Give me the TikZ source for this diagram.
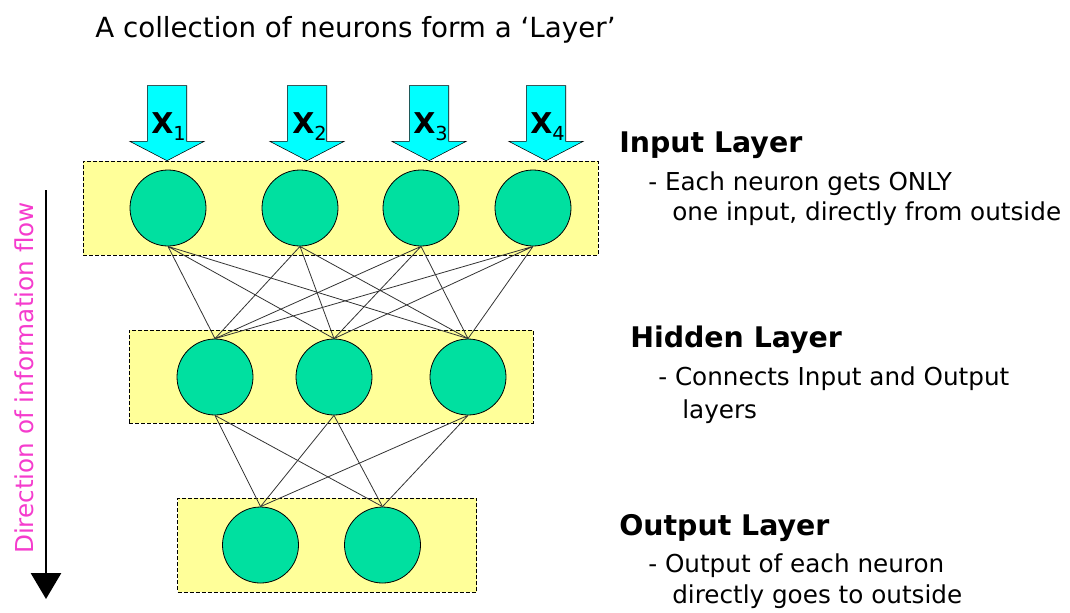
\documentclass[tikz,border=0pt]{standalone}
\usepackage{fontspec}
\setmainfont{DejaVu Sans}
\usetikzlibrary{positioning, arrows.meta, shapes.arrows}
\definecolor{layeryellow}{RGB}{255,255,153}
\definecolor{neurongreen}{RGB}{0,224,160}
\definecolor{inputcyan}{RGB}{0,255,255}
\definecolor{flowpink}{RGB}{245,60,205}
\newcommand{\xsub}[1]{{\mdseries\fontsize{14.5}{15}\selectfont\raisebox{-5.5pt}{#1}}}

\begin{document}
\begin{tikzpicture}[x=0.75pt, y=-0.75pt,
  layer/.style={draw, fill=layeryellow, line width=0.7pt, dash pattern=on 3pt off 1.5pt, inner sep=0pt},
  neuron/.style={circle, draw, fill=neurongreen, minimum size=57pt, inner sep=0pt, line width=0.6pt},
  inarrow/.style={single arrow, draw, fill=inputcyan, line width=0.4pt, rotate=-90, inner sep=0pt,
    inner ysep=14.6pt, single arrow head extend=13.1pt, single arrow tip angle=125,
    minimum height=56.25pt, minimum width=55.5pt},
  xlab/.style={anchor=base west, inner sep=0pt, font=\fontsize{21.5}{24}\selectfont\bfseries},
  link/.style={draw=black!80, line width=0.6pt},
  txt/.style={anchor=base west, inner sep=0pt, font=\fontsize{18.5}{22}\selectfont},
  head/.style={anchor=base west, inner sep=0pt, font=\fontsize{21.3}{24}\selectfont\bfseries}]
\useasboundingbox (0,0) rectangle (1070,612);

\node[txt, font=\fontsize{20.8}{24}\selectfont] at (95,37) (title) {A collection of neurons form a `Layer'} ;

% layers
\node[layer, minimum width=386.25pt, minimum height=70.5pt] at (340.5,208) (inbox) {} ;
\node[layer, minimum width=303pt, minimum height=69.75pt] at (331,376.5) (hidbox) {} ;
\node[layer, minimum width=224.25pt, minimum height=70.5pt] at (327,545) (outbox) {} ;

\node[neuron] at (168,208) (in1) {} ;
\node[neuron] at (300,208) (in2) {} ;
\node[neuron] at (421,208) (in3) {} ;
\node[neuron] at (533,208) (in4) {} ;
\node[neuron] at (215,377) (hid1) {} ;
\node[neuron] at (334,377) (hid2) {} ;
\node[neuron] at (468,377) (hid3) {} ;
\node[neuron] at (260.5,545) (out1) {} ;
\node[neuron] at (382.5,545) (out2) {} ;

% inputs
\node[inarrow, anchor=tip] at (167,161) (arr1) {} ;
\node[inarrow, anchor=tip] at (307,161) (arr2) {} ;
\node[inarrow, anchor=tip] at (429,161) (arr3) {} ;
\node[inarrow, anchor=tip] at (546,161) (arr4) {} ;
\node[xlab] at (151,133) (x1) {X\xsub{1}} ;
\node[xlab] at (292,133) (x2) {X\xsub{2}} ;
\node[xlab] at (413,133) (x3) {X\xsub{3}} ;
\node[xlab] at (530,133) (x4) {X\xsub{4}} ;

% connections
\draw[link] (in1.south) -- (hid1.north) (in1.south) -- (hid2.north) (in1.south) -- (hid3.north) ;
\draw[link] (in2.south) -- (hid1.north) (in2.south) -- (hid2.north) (in2.south) -- (hid3.north) ;
\draw[link] (in3.south) -- (hid1.north) (in3.south) -- (hid2.north) (in3.south) -- (hid3.north) ;
\draw[link] (in4.south) -- (hid1.north) (in4.south) -- (hid2.north) (in4.south) -- (hid3.north) ;
\draw[link] (hid1.south) -- (out1.north) (hid1.south) -- (out2.north) ;
\draw[link] (hid2.south) -- (out1.north) (hid2.south) -- (out2.north) ;
\draw[link] (hid3.south) -- (out1.north) (hid3.south) -- (out2.north) ;

% direction of flow
\coordinate (flowtop) at (46,190) ;
\coordinate (flowend) at (46,599) ;
\draw[line width=2.2pt, -{Triangle[width=22.5pt, length=19.5pt]}] (flowtop) -- (flowend) ;
\node[rotate=90, anchor=base, inner sep=0pt, text=flowpink, font=\fontsize{18.5}{22}\selectfont] at (33,378) (flowlabel) {Direction of information flow} ;

% descriptions
\node[head] at (619,152) (inhead) {Input Layer} ;
\node[txt] at (648,190) (indesc1) {- Each neuron gets ONLY} ;
\node[txt] at (672,220) (indesc2) {one input, directly from outside} ;
\node[head] at (630,347) (hidhead) {Hidden Layer} ;
\node[txt] at (658,385) (hiddesc1) {- Connects Input and Output} ;
\node[txt] at (682,418) (hiddesc2) {layers} ;
\node[head] at (619,535) (outhead) {Output Layer} ;
\node[txt] at (648,572) (outdesc1) {- Output of each neuron} ;
\node[txt] at (672,603) (outdesc2) {directly goes to outside} ;
\end{tikzpicture}
\end{document}
